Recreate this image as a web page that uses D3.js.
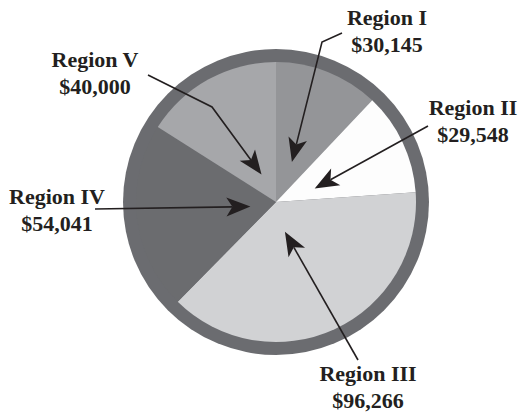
<!DOCTYPE html>
<html lang="en">
<head>
  <meta charset="UTF-8">
  <title>Sales by Region</title>
  <style>
    body { margin: 0; background: #fff; }
    svg { display: block; }
    .lbl { font-family: 'Liberation Serif', 'Times New Roman', serif; font-weight: bold; font-size: 22px; fill: #231f20; }
  </style>
</head>
<body>
  <svg id="chart" width="523" height="417"></svg>
  <script src="https://d3js.org/d3.v7.min.js"></script>
  <script>
    // Data
    const regions = ["Region I", "Region II", "Region III", "Region IV", "Region V"];
    const sales = [30145, 29548, 96266, 54041, 40000];
    const sliceColors = ["#949598", "#fdfdfd", "#d1d2d4", "#6b6c6f", "#a6a7aa"];

    // Layout of the callouts (label baseline, leader start / bend, arrow tip radius + angle tweak in deg)
    const labelPos = [[387, 25], [473, 115], [368, 381], [57, 204], [95, 67]];
    const leaderPts = [
      [[342, 33], [322, 42]],
      [[428, 126]],
      [[358, 360]],
      [[95, 209]],
      [[148, 75], [212, 107]]
    ];
    const tipR = [43, 41, 31, 26, 31];
    const tipTweak = [0, 6, 8, -3.6, 1];

    const svg = d3.select('#chart');
    const cx = 276, cy = 202, ringR = 153, pieR = 140;
    const fmt = d3.format("$,");

    const g = svg.append('g').attr('transform', `translate(${cx},${cy})`);
    g.append('circle').attr('r', ringR).attr('fill', '#6b6c70');

    const pie = d3.pie().sort(null).value(d => d)(sales);
    const arc = d3.arc().innerRadius(0).outerRadius(pieR);
    g.selectAll('path.slice')
      .data(pie)
      .enter().append('path')
      .attr('class', 'slice')
      .attr('d', arc)
      .attr('fill', (d, i) => sliceColors[i]);

    // arrows
    const ink = '#231f20';
    const headLen = 24, headW = 9.5, notch = 6;
    pie.forEach((d, i) => {
      const a = (d.startAngle + d.endAngle) / 2 + tipTweak[i] * Math.PI / 180;
      const tip = [cx + tipR[i] * Math.sin(a), cy - tipR[i] * Math.cos(a)];
      const pts = leaderPts[i].concat([tip]);
      const prev = pts[pts.length - 2];
      const dx = tip[0] - prev[0], dy = tip[1] - prev[1];
      const len = Math.hypot(dx, dy);
      const ux = dx / len, uy = dy / len, px = -uy, py = ux;
      const back = [tip[0] - ux * headLen, tip[1] - uy * headLen];
      const nb = [back[0] + ux * notch, back[1] + uy * notch];
      const linePts = pts.slice(0, -1).concat([nb]);
      svg.append('path')
        .attr('d', d3.line()(linePts))
        .attr('fill', 'none')
        .attr('stroke', ink)
        .attr('stroke-width', 1.6);
      svg.append('path')
        .attr('d', d3.line()([
          tip,
          [back[0] + px * headW, back[1] + py * headW],
          nb,
          [back[0] - px * headW, back[1] - py * headW]
        ]) + 'Z')
        .attr('fill', ink);
    });

    // labels
    regions.forEach((r, i) => {
      const t = svg.append('text')
        .attr('class', 'lbl')
        .attr('text-anchor', 'middle')
        .attr('x', labelPos[i][0])
        .attr('y', labelPos[i][1]);
      t.append('tspan').attr('x', labelPos[i][0]).text(r);
      t.append('tspan').attr('x', labelPos[i][0]).attr('dy', 27).text(fmt(sales[i]));
    });
  </script>
</body>
</html>
